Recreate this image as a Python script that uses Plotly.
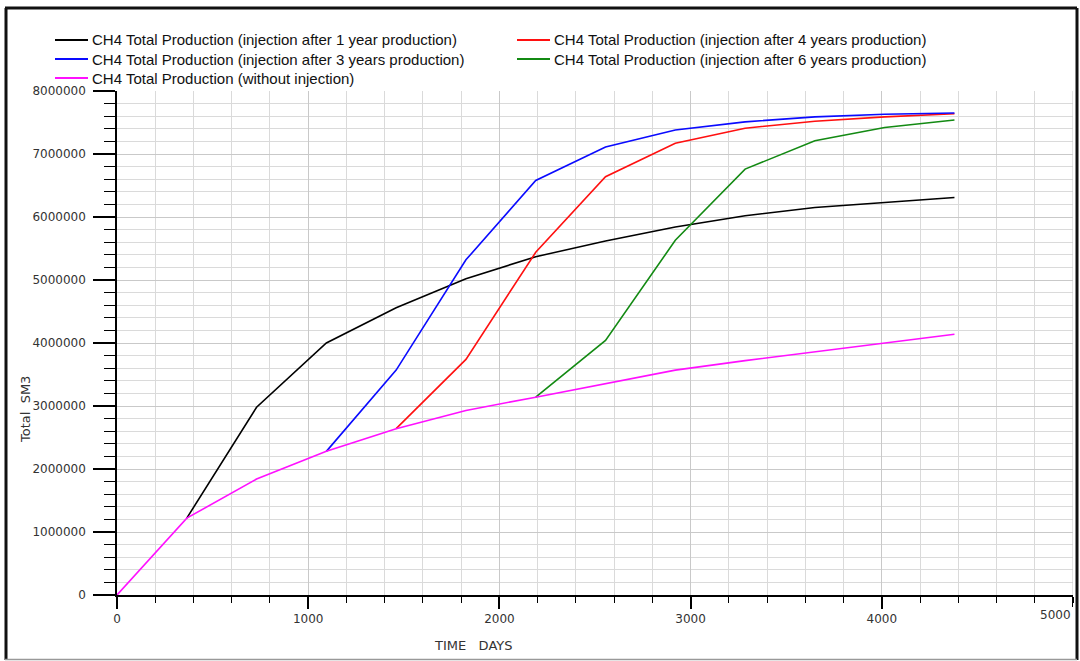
import plotly.graph_objects as go

# ---------------- data ----------------
days = [0, 365, 730, 1095, 1460, 1825, 2190, 2555, 2920, 3285, 3650, 4015, 4380]

no_injection = [0, 1220000, 1840000, 2280000, 2640000, 2930000, 3140000,
                3360000, 3570000, 3720000, 3860000, 4000000, 4140000]

inj_1yr_days = days[1:]
inj_1yr = [1220000, 2980000, 4000000, 4560000, 5020000, 5370000, 5620000,
           5840000, 6020000, 6150000, 6230000, 6310000]

inj_3yr_days = days[3:]
inj_3yr = [2280000, 3570000, 5320000, 6580000, 7110000, 7380000, 7510000,
           7590000, 7630000, 7650000]

inj_4yr_days = days[4:]
inj_4yr = [2640000, 3740000, 5440000, 6640000, 7170000, 7410000, 7520000,
           7590000, 7640000]

inj_6yr_days = days[6:]
inj_6yr = [3140000, 4040000, 5630000, 6760000, 7210000, 7420000, 7540000]

names = [
    "CH4 Total Production (injection after 1 year production)",
    "CH4 Total Production (injection after 4 years production)",
    "CH4 Total Production (injection after 3 years production)",
    "CH4 Total Production (injection after 6 years production)",
    "CH4 Total Production (without injection)",
]
colors = ["#000000", "#ff1010", "#0a0aff", "#138a13", "#ff10ff"]

series = [
    (inj_1yr_days, inj_1yr),
    (inj_4yr_days, inj_4yr),
    (inj_3yr_days, inj_3yr),
    (inj_6yr_days, inj_6yr),
    (days, no_injection),
]

x_ticks = [0, 1000, 2000, 3000, 4000]
x_last_tick = 5000

# ---------------- layout geometry (pixels) ----------------
W, H = 1080, 661
L, R, T, B = 117, 1073, 91, 595
PW, PH = R - L, B - T


def px(x):
    return (x - L) / PW


def py(y):
    return (B - y) / PH


fig = go.Figure()
for (xs, ys), n, c in zip(series, names, colors):
    fig.add_trace(go.Scatter(x=xs, y=ys, mode="lines", name=n,
                             line=dict(color=c, width=1.6)))

fig.update_layout(
    width=W, height=H,
    margin=dict(l=L, r=W - R, t=T, b=H - B, pad=0),
    paper_bgcolor="white", plot_bgcolor="white",
    font=dict(family="Liberation Sans, Arial, sans-serif", size=13, color="#222"),
    showlegend=False,
)

tickfont = dict(family="DejaVu Sans, sans-serif", size=12, color="#333")

fig.update_xaxes(
    range=[0, 5000], tickvals=x_ticks,
    showline=True, linecolor="black", linewidth=1.5,
    ticks="outside", ticklen=12, tickwidth=2, tickcolor="black",
    showgrid=True, gridcolor="#c9c9c9", gridwidth=1,
    zeroline=False, tickfont=tickfont,
    minor=dict(dtick=200, tick0=0, ticks="outside", ticklen=6, tickwidth=1,
               tickcolor="black", showgrid=True, gridcolor="#dadada", gridwidth=1),
)
fig.update_yaxes(
    range=[0, 8000000], dtick=1000000, tick0=0, tickformat="d",
    showline=True, linecolor="black", linewidth=1.5,
    ticks="outside", ticklen=22, tickwidth=2, tickcolor="black",
    ticklabelstandoff=5,
    showgrid=True, gridcolor="#c9c9c9", gridwidth=1,
    zeroline=False, tickfont=tickfont,
    minor=dict(dtick=200000, tick0=0, ticks="outside", ticklen=11, tickwidth=1,
               tickcolor="black", showgrid=True, gridcolor="#dadada", gridwidth=1),
)

# last x tick (label pulled inside the figure like the reference), with its gridline/tick
fig.add_annotation(text=str(x_last_tick), x=px(1055), y=py(615), xref="paper", yref="paper",
                   showarrow=False, xanchor="center", yanchor="middle", font=tickfont)
fig.add_shape(type="line", xref="x", yref="paper", x0=x_last_tick, x1=x_last_tick,
              y0=0, y1=1, line=dict(color="#c9c9c9", width=1))
fig.add_shape(type="line", xref="x", yref="paper", x0=x_last_tick, x1=x_last_tick,
              y0=0, y1=py(607), line=dict(color="black", width=2))

# axis titles
fig.add_annotation(text="TIME&nbsp;&nbsp;&nbsp;DAYS", x=px(473), y=py(645),
                   xref="paper", yref="paper", showarrow=False,
                   xanchor="center", yanchor="middle",
                   font=dict(family="DejaVu Sans, sans-serif", size=13, color="#333"))
fig.add_annotation(text="Total&nbsp;&nbsp;SM3", x=px(25), y=py(410),
                   xref="paper", yref="paper", showarrow=False, textangle=-90,
                   xanchor="center", yanchor="middle",
                   font=dict(family="DejaVu Sans, sans-serif", size=13, color="#333"))

# legend (two columns, filled row by row)
leg_cols = [55, 517]
leg_rows = [40, 59, 78]
for i, (n, c) in enumerate(zip(names, colors)):
    lx = leg_cols[i % 2]
    ly = leg_rows[i // 2]
    fig.add_shape(type="line", xref="paper", yref="paper",
                  x0=px(lx), x1=px(lx + 33), y0=py(ly), y1=py(ly),
                  line=dict(color=c, width=1.8))
    fig.add_annotation(text=n, x=px(lx + 35), y=py(ly), xref="paper", yref="paper",
                       showarrow=False, xanchor="left", yanchor="middle",
                       font=dict(family="Liberation Sans, Arial, sans-serif", size=15,
                                 color="#111"))

# outer frame
frame = [
    (px(6), py(8), px(6), py(660), "#111", 3),
    (px(5), py(8), px(1077), py(8), "#111", 3),
    (px(1077), py(8), px(1077), py(660), "#111", 3),
    (px(5), py(659.5), px(1077), py(659.5), "#999", 1.5),
]
for x0, y0, x1, y1, c, w in frame:
    fig.add_shape(type="line", xref="paper", yref="paper",
                  x0=x0, y0=y0, x1=x1, y1=y1, line=dict(color=c, width=w))

fig.write_html("out.html")
